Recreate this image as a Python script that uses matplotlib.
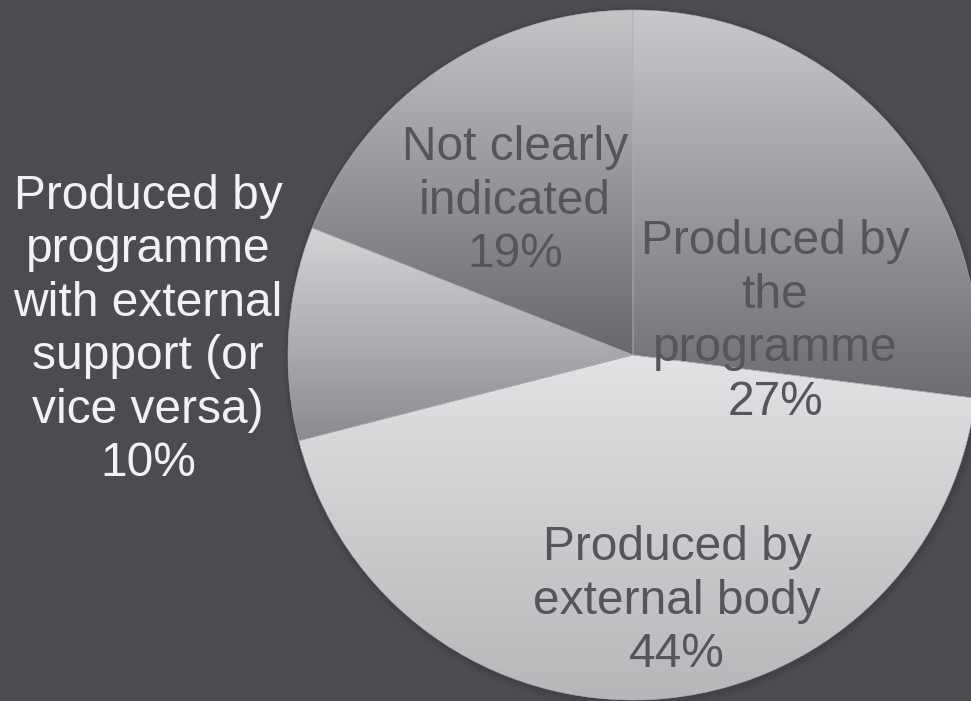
import numpy as np
import matplotlib
matplotlib.use("Agg")
import matplotlib.pyplot as plt
from matplotlib.colors import LinearSegmentedColormap
from matplotlib.patches import Circle

# data
labels = ["Produced by\nthe\nprogramme", "Produced by\nexternal body",
          "Produced by\nprogramme\nwith external\nsupport (or\nvice versa)",
          "Not clearly\nindicated"]
shares = [27, 44, 10, 19]

# gradient (top, bottom) for each slice
grad_top = ["#c8c9cb", "#e2e3e5", "#d3d4d6", "#c3c4c6"]
grad_bot = ["#6b6d72", "#b7b7b9", "#8a8b8f", "#67686d"]

# label centres in pixels (x, y from top) and colours
label_px = [(775, 322), (677, 601), (148, 330), (515, 201)]
label_col = ["#55565b", "#55565b", "#f2f2f2", "#55565b"]

W, H = 971, 701
cx, cy, R = 633, 355, 345

fig = plt.figure(figsize=(W / 100, H / 100), dpi=100)
fig.patch.set_facecolor("#4b4c51")
ax = fig.add_axes([0, 0, 1, 1])
ax.set_facecolor("#4b4c51")
ax.axis("off")

# soft shadow
for i in range(3):
    ax.add_patch(Circle((0.004, -0.006), 1.0 + 0.006 * (i + 1), color="#2e2f33",
                        alpha=0.10, zorder=0, lw=0))

wedges, _ = ax.pie(shares, startangle=90, counterclock=False, radius=1,
                   wedgeprops=dict(edgecolor="#b0b1b4", linewidth=0.4))

for w, t, b in zip(wedges, grad_top, grad_bot):
    w.set_facecolor("none")
    ext = w.get_path().get_extents(w.get_patch_transform())
    cmap = LinearSegmentedColormap.from_list("g", [b, t])
    grad = np.linspace(0, 1, 256).reshape(-1, 1)
    im = ax.imshow(grad, cmap=cmap, origin="lower", aspect="auto",
                   extent=[ext.x0, ext.x1, ext.y0, ext.y1], zorder=1,
                   interpolation="bilinear")
    im.set_clip_path(w)
    w.set_zorder(2)

ax.set_xlim(-cx / R, (W - cx) / R)
ax.set_ylim(-(H - cy) / R, cy / R)
ax.set_aspect("auto")

for lab, s, (px, py), col in zip(labels, shares, label_px, label_col):
    ax.text(px / W, 1 - py / H, f"{lab}\n{s}%", transform=ax.transAxes,
            ha="center", va="center", fontsize=34.5, color=col,
            family="Liberation Sans", linespacing=1.24, zorder=5)

fig.savefig("out.png", dpi=100, facecolor=fig.get_facecolor())
